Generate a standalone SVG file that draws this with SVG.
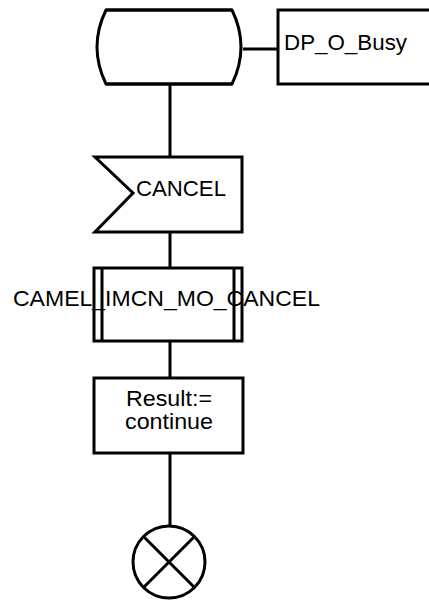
<svg xmlns="http://www.w3.org/2000/svg" width="429" height="607" viewBox="0 0 429 607">
<style>
.s{fill:#fff;stroke:#000;stroke-width:3}
.c{fill:none;stroke:#000;stroke-width:3}
.t{font-family:"Liberation Sans",Arial,sans-serif;font-size:22px;fill:#000}
</style>
<rect width="429" height="607" fill="#fff"/>
<g id="connectors">
<line class="c" x1="170" y1="84" x2="170" y2="157"/>
<line class="c" x1="243" y1="49" x2="278" y2="49"/>
<line class="c" x1="170" y1="232" x2="170" y2="268"/>
<line class="c" x1="170" y1="341" x2="170" y2="378"/>
<line class="c" x1="170" y1="453" x2="170" y2="526"/>
</g>
<g id="state">
<path class="s" d="M106,10 L232,10 Q250,47 232,84 L106,84 Q88,47 106,10 Z" stroke-width="2.5"/>
<line class="c" x1="106" y1="10" x2="232" y2="10"/>
<line class="c" x1="106" y1="84" x2="232" y2="84"/>
</g>
<g id="dp_o_busy">
<polyline class="c" points="440,10 278,10 278,84 440,84"/>
<text class="t" x="284" y="50" textLength="123" lengthAdjust="spacingAndGlyphs">DP_O_Busy</text>
</g>
<g id="cancel">
<polygon class="s" points="95,157 242,157 242,232 95,232 133,193"/>
<text class="t" x="136" y="196" textLength="90" lengthAdjust="spacingAndGlyphs">CANCEL</text>
</g>
<g id="procedure">
<rect class="s" x="94" y="268" width="148" height="73"/>
<line class="c" x1="102" y1="268" x2="102" y2="341" stroke-width="2.5"/>
<line class="c" x1="234" y1="268" x2="234" y2="341" stroke-width="2.5"/>
<text class="t" x="13" y="306" textLength="307" lengthAdjust="spacingAndGlyphs">CAMEL_IMCN_MO_CANCEL</text>
</g>
<g id="task">
<rect class="s" x="94" y="378" width="149" height="75"/>
<text class="t" x="126" y="406" textLength="86" lengthAdjust="spacingAndGlyphs">Result:=</text>
<text class="t" x="125" y="429" textLength="88" lengthAdjust="spacingAndGlyphs">continue</text>
</g>
<g id="stop">
<circle class="s" cx="169" cy="562" r="36"/>
<line class="c" x1="143.5" y1="536.5" x2="194.5" y2="587.5"/>
<line class="c" x1="194.5" y1="536.5" x2="143.5" y2="587.5"/>
</g>
</svg>
